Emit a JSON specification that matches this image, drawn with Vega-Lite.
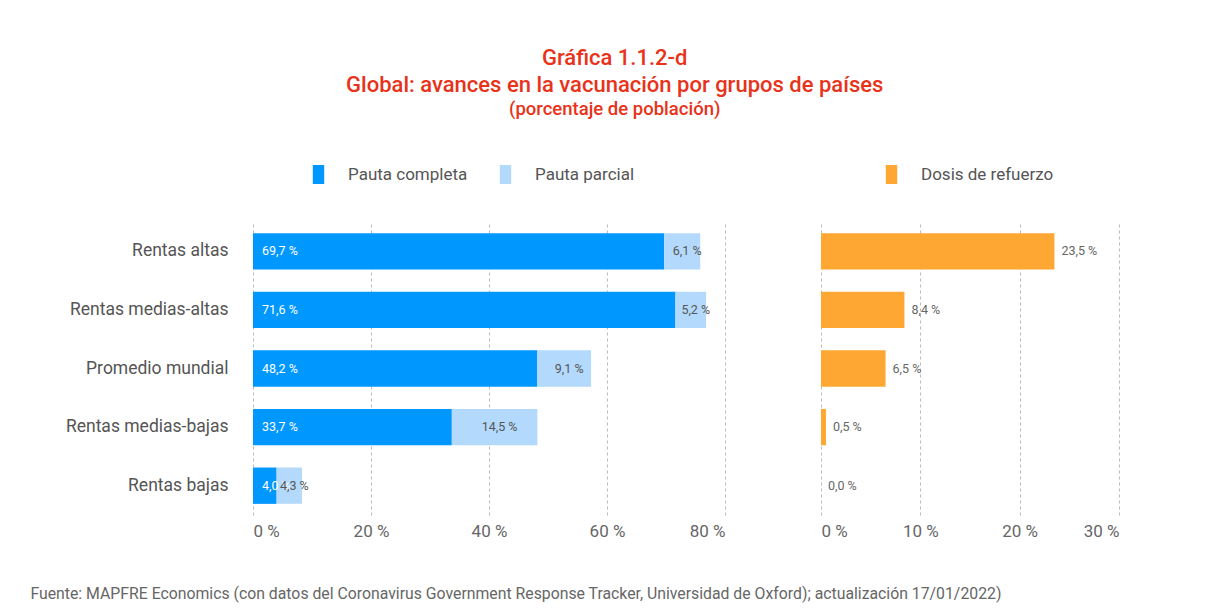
{
  "$schema": "https://vega.github.io/schema/vega-lite/v6.json",
  "background": "white",
  "padding": {"left": 30, "top": 46, "right": 5, "bottom": 5},
  "autosize": {"type": "pad"},
  "title": {
    "text": ["Gráfica 1.1.2-d", "Global: avances en la vacunación por grupos de países"],
    "subtitle": "(porcentaje de población)",
    "anchor": "middle",
    "frame": "bounds",
    "dx": 40,
    "color": "#E8321A",
    "font": "Roboto",
    "fontSize": 22,
    "fontWeight": 500,
    "lineHeight": 27,
    "subtitleColor": "#E8321A",
    "subtitleFont": "Roboto",
    "subtitleFontSize": 18.5,
    "subtitleFontWeight": 500,
    "subtitlePadding": 3,
    "offset": 46
  },
  "datasets": {
    "pauta": [
      {"grupo": "Rentas altas", "serie": "Pauta completa", "orden": 1, "valor": 69.7, "lbl": "69,7 %"},
      {"grupo": "Rentas altas", "serie": "Pauta parcial", "orden": 2, "valor": 6.1, "lbl": "6,1 %"},
      {"grupo": "Rentas medias-altas", "serie": "Pauta completa", "orden": 1, "valor": 71.6, "lbl": "71,6 %"},
      {"grupo": "Rentas medias-altas", "serie": "Pauta parcial", "orden": 2, "valor": 5.2, "lbl": "5,2 %"},
      {"grupo": "Promedio mundial", "serie": "Pauta completa", "orden": 1, "valor": 48.2, "lbl": "48,2 %"},
      {"grupo": "Promedio mundial", "serie": "Pauta parcial", "orden": 2, "valor": 9.1, "lbl": "9,1 %"},
      {"grupo": "Rentas medias-bajas", "serie": "Pauta completa", "orden": 1, "valor": 33.7, "lbl": "33,7 %"},
      {"grupo": "Rentas medias-bajas", "serie": "Pauta parcial", "orden": 2, "valor": 14.5, "lbl": "14,5 %"},
      {"grupo": "Rentas bajas", "serie": "Pauta completa", "orden": 1, "valor": 4.0, "lbl": "4,0 %"},
      {"grupo": "Rentas bajas", "serie": "Pauta parcial", "orden": 2, "valor": 4.3, "lbl": "4,3 %"}
    ],
    "refuerzo": [
      {"grupo": "Rentas altas", "serie": "Dosis de refuerzo", "valor": 23.5, "lbl": "23,5 %"},
      {"grupo": "Rentas medias-altas", "serie": "Dosis de refuerzo", "valor": 8.4, "lbl": "8,4 %"},
      {"grupo": "Promedio mundial", "serie": "Dosis de refuerzo", "valor": 6.5, "lbl": "6,5 %"},
      {"grupo": "Rentas medias-bajas", "serie": "Dosis de refuerzo", "valor": 0.5, "lbl": "0,5 %"},
      {"grupo": "Rentas bajas", "serie": "Dosis de refuerzo", "valor": 0.0, "lbl": "0,0 %"}
    ]
  },
  "spacing": 96,
  "bounds": "flush",
  "resolve": {"scale": {"color": "independent"}},
  "hconcat": [
    {
      "width": 472,
      "height": 293,
      "data": {"name": "pauta"},
      "title": {
        "text": "Fuente: MAPFRE Economics (con datos del Coronavirus Government Response Tracker, Universidad de Oxford); actualización 17/01/2022)",
        "orient": "bottom",
        "anchor": "start",
        "frame": "bounds",
        "font": "Roboto",
        "fontSize": 15.8,
        "fontWeight": "normal",
        "color": "#666666",
        "offset": 48,
        "dx": -35
      },
      "layer": [
        {
          "mark": {"type": "bar"},
          "encoding": {
            "y": {
              "field": "grupo", "type": "nominal",
              "sort": ["Rentas altas", "Rentas medias-altas", "Promedio mundial", "Rentas medias-bajas", "Rentas bajas"],
              "scale": {"paddingInner": 0.38, "paddingOuter": 0.19},
              "axis": {"title": null, "ticks": false, "domain": false, "labelFontSize": 17.5, "labelColor": "#555555", "labelPadding": 25, "labelFont": "Roboto", "labelLimit": 300}
            },
            "x": {
              "field": "valor", "type": "quantitative", "stack": "zero",
              "scale": {"domain": [0, 80], "nice": false},
              "axis": {"title": null, "values": [0, 20, 40, 60, 80], "labelExpr": "datum.value + ' %'", "grid": true, "gridDash": [3, 3], "gridColor": "#BBBBBB", "domain": false, "ticks": false, "labelFontSize": 17, "labelColor": "#666666", "labelPadding": 8, "labelFont": "Roboto"}
            },
            "color": {
              "field": "serie", "type": "nominal",
              "scale": {"domain": ["Pauta completa", "Pauta parcial"], "range": ["#0097FF", "#B3DAFC"]},
              "legend": {"title": null, "orient": "none", "legendX": 56, "legendY": -57, "direction": "horizontal", "symbolType": "M-0.6,-1H0.6V1H-0.6Z", "symbolSize": 361, "symbolStrokeWidth": 0, "labelFontSize": 17, "labelColor": "#555555", "labelFont": "Roboto", "labelOffset": 20, "columnPadding": 28, "padding": 0}
            },
            "order": {"field": "orden"}
          }
        },
        {
          "transform": [
            {"stack": "valor", "groupby": ["grupo"], "sort": [{"field": "orden"}], "as": ["v0", "v1"]},
            {"filter": "datum.orden == 1"}
          ],
          "mark": {"type": "text", "align": "left", "baseline": "middle", "dx": 9, "color": "white", "fontSize": 12.5, "font": "Roboto"},
          "encoding": {
            "y": {"field": "grupo", "type": "nominal", "sort": ["Rentas altas", "Rentas medias-altas", "Promedio mundial", "Rentas medias-bajas", "Rentas bajas"]},
            "x": {"field": "v0", "type": "quantitative"},
            "text": {"field": "lbl"}
          }
        },
        {
          "transform": [
            {"stack": "valor", "groupby": ["grupo"], "sort": [{"field": "orden"}], "as": ["v0", "v1"]},
            {"filter": "datum.orden == 2"},
            {"calculate": "(datum.v0 + datum.v1) / 2", "as": "vm"}
          ],
          "mark": {"type": "text", "align": "center", "baseline": "middle", "dx": 5, "color": "#555555", "fontSize": 12.5, "font": "Roboto"},
          "encoding": {
            "y": {"field": "grupo", "type": "nominal", "sort": ["Rentas altas", "Rentas medias-altas", "Promedio mundial", "Rentas medias-bajas", "Rentas bajas"]},
            "x": {"field": "vm", "type": "quantitative"},
            "text": {"field": "lbl"}
          }
        }
      ]
    },
    {
      "width": 298,
      "height": 293,
      "data": {"name": "refuerzo"},
      "layer": [
        {
          "mark": {"type": "bar"},
          "encoding": {
            "y": {
              "field": "grupo", "type": "nominal",
              "sort": ["Rentas altas", "Rentas medias-altas", "Promedio mundial", "Rentas medias-bajas", "Rentas bajas"],
              "scale": {"paddingInner": 0.38, "paddingOuter": 0.19},
              "axis": null
            },
            "x": {
              "field": "valor", "type": "quantitative",
              "scale": {"domain": [0, 30], "nice": false},
              "axis": {"title": null, "values": [0, 10, 20, 30], "labelExpr": "datum.value + ' %'", "grid": true, "gridDash": [3, 3], "gridColor": "#BBBBBB", "domain": false, "ticks": false, "labelFontSize": 17, "labelColor": "#666666", "labelPadding": 8, "labelFont": "Roboto"}
            },
            "color": {
              "field": "serie", "type": "nominal",
              "scale": {"domain": ["Dosis de refuerzo"], "range": ["#FFA733"]},
              "legend": {"title": null, "orient": "none", "legendX": 61, "legendY": -57, "direction": "horizontal", "symbolType": "M-0.6,-1H0.6V1H-0.6Z", "symbolSize": 361, "symbolStrokeWidth": 0, "labelFontSize": 17, "labelColor": "#555555", "labelFont": "Roboto", "labelOffset": 20, "padding": 0}
            }
          }
        },
        {
          "mark": {"type": "text", "align": "left", "baseline": "middle", "dx": 7, "color": "#666666", "fontSize": 12.5, "font": "Roboto"},
          "encoding": {
            "y": {"field": "grupo", "type": "nominal", "sort": ["Rentas altas", "Rentas medias-altas", "Promedio mundial", "Rentas medias-bajas", "Rentas bajas"]},
            "x": {"field": "valor", "type": "quantitative"},
            "text": {"field": "lbl"}
          }
        }
      ]
    }
  ],
  "config": {
    "view": {"stroke": null},
    "font": "Roboto"
  }
}
